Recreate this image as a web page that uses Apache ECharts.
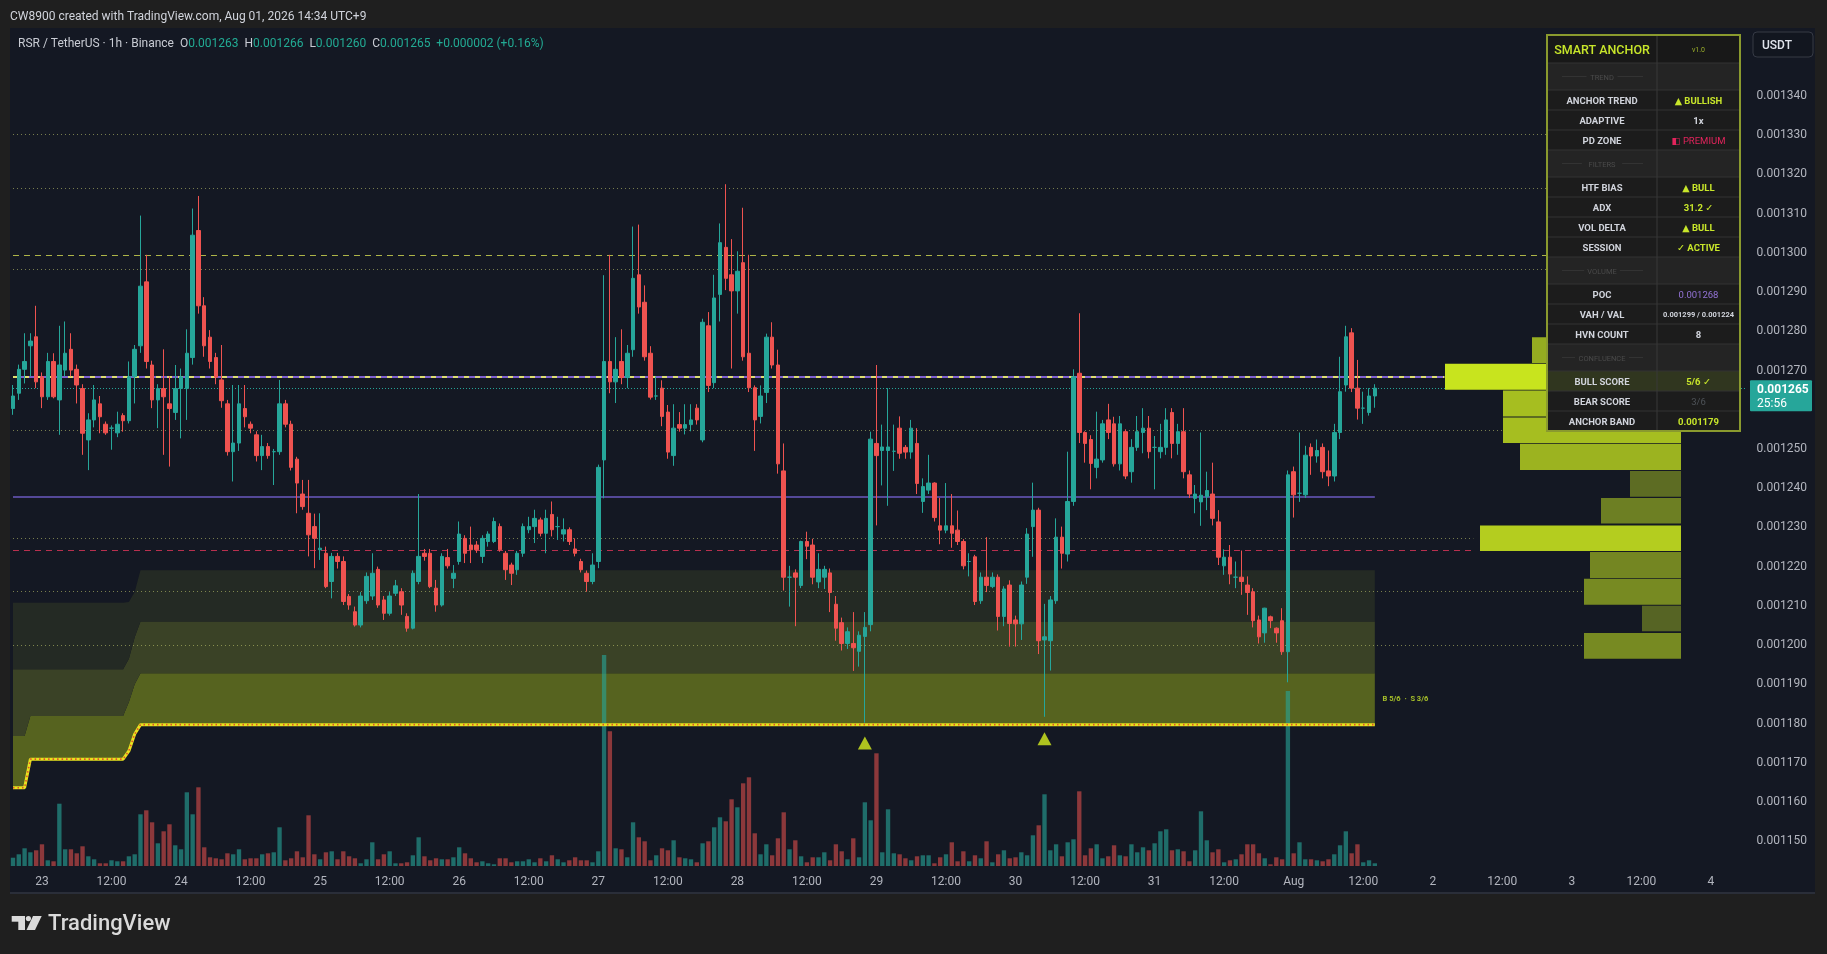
<!DOCTYPE html>
<html>
<head>
<meta charset="utf-8">
<script src="https://cdn.jsdelivr.net/npm/echarts@6/dist/echarts.min.js"></script>
<style>
html,body{margin:0;padding:0;background:#1f1f1f;width:1827px;height:954px;overflow:hidden;}
#pane{position:absolute;left:10px;top:28px;width:1805px;height:866px;background:#141823;border-bottom:2px solid #2a2e39;box-sizing:border-box;}
#chart{position:absolute;left:0;top:0;width:1827px;height:954px;}
</style>
</head>
<body>
<div id="pane"></div>
<div id="chart"></div>
<script>
// ---------- DATA (prices in micro-USDT, 1e-6 USDT) ----------
const PRICE_UNIT = 1e-6;
const symbolName = 'RSR / TetherUS · 1h · Binance';
const firstBar = { month: 'Jul', day: 22, hour: 19 }; // first visible hourly candle
const slotCount = 300; // visible hourly slots incl. future space

const candleOpen = [
1259.8,1263.7,1269.8,1275.8,1278.1,1267.9,1262.8,1271.8,1262.0,1269.6,
1274.9,1269.8,1264.9,1251.8,1256.9,1261.0,1255.8,1254.8,1253.6,1258.0,
1256.7,1267.9,1275.8,1292.1,1270.9,1262.0,1264.9,1261.0,1258.8,1264.9,
1264.9,1272.8,1305.2,1286.0,1278.0,1272.8,1267.1,1261.0,1248.8,1251.0,
1259.8,1255.8,1253.1,1247.8,1250.1,1248.8,1248.8,1261.0,1255.8,1246.9,
1238.0,1233.1,1229.7,1223.8,1222.9,1215.7,1222.1,1220.8,1211.9,1208.0,
1204.6,1210.8,1212.0,1218.8,1211.0,1207.6,1212.7,1213.1,1206.8,1203.8,
1215.7,1222.9,1222.9,1214.0,1209.7,1221.8,1216.5,1220.8,1226.7,1225.0,
1225.0,1222.1,1225.9,1225.9,1229.7,1222.9,1219.9,1218.7,1222.9,1228.9,
1229.7,1231.4,1228.0,1232.8,1229.7,1227.8,1228.9,1224.0,1220.8,1217.8,
1215.7,1220.8,1246.7,1271.8,1266.6,1271.8,1267.7,1274.8,1293.9,1286.9,
1273.9,1263.0,1265.0,1258.9,1247.8,1255.7,1254.8,1255.7,1259.9,1251.8,
1280.9,1266.4,1288.9,1300.9,1293.9,1289.8,1297.0,1273.9,1265.1,1257.8,
1263.9,1278.0,1270.9,1243.9,1216.8,1217.9,1214.7,1225.9,1225.0,1215.6,
1216.8,1217.9,1209.9,1205.2,1199.9,1199.9,1197.9,1201.7,1204.7,1250.9,
1249.1,1249.1,1248.9,1254.8,1249.9,1248.7,1250.9,1236.1,1239.0,1240.8,
1229.9,1228.8,1229.9,1228.8,1225.9,1220.8,1222.0,1210.8,1216.8,1214.4,
1216.8,1206.8,1214.8,1205.9,1204.9,1216.8,1229.7,1233.9,1200.8,1200.6,
1210.8,1227.0,1222.7,1236.1,1268.8,1253.7,1251.9,1244.8,1246.7,1256.9,
1255.9,1245.7,1253.9,1243.7,1249.9,1253.7,1254.8,1249.9,1248.8,1249.9,
1258.8,1250.9,1253.9,1242.9,1236.9,1236.0,1237.3,1238.0,1230.9,1219.7,
1221.9,1216.8,1216.8,1214.8,1213.1,1205.9,1202.6,1206.7,1203.8,1205.7,
1197.8,1243.7,1238.2,1237.8,1249.9,1247.7,1249.9,1243.9,1242.6,1253.7,
1265.8,1279.1,1265.0,1259.9,1258.8,1263.0
];
const candleClose = [
1263.0,1269.8,1271.8,1277.0,1266.6,1262.8,1271.8,1262.8,1270.9,1273.9,
1269.6,1265.8,1253.5,1256.9,1262.0,1257.7,1253.6,1254.8,1255.8,1256.7,
1267.9,1274.9,1291.0,1271.8,1262.0,1264.9,1262.8,1259.8,1264.9,1267.9,
1273.9,1304.0,1286.0,1275.8,1271.8,1267.8,1261.8,1248.8,1251.0,1261.0,
1257.7,1254.8,1247.8,1250.1,1247.8,1248.8,1261.0,1255.8,1244.8,1240.8,
1234.8,1227.6,1226.7,1224.2,1214.4,1222.1,1220.8,1210.6,1209.7,1204.6,
1212.0,1217.0,1217.8,1209.7,1207.6,1212.0,1214.6,1209.7,1203.8,1217.8,
1222.1,1222.1,1214.4,1209.7,1222.1,1219.7,1217.8,1227.8,1222.9,1223.8,
1223.8,1226.7,1227.8,1231.0,1223.8,1218.7,1217.8,1222.9,1229.7,1229.7,
1231.8,1228.0,1231.8,1228.9,1229.7,1228.9,1225.9,1222.9,1218.7,1215.7,
1219.9,1244.8,1271.8,1266.6,1269.8,1267.7,1273.9,1293.0,1285.7,1273.0,
1262.7,1263.0,1257.8,1248.7,1254.8,1254.8,1255.7,1256.9,1256.9,1281.8,
1265.7,1288.0,1302.1,1293.0,1289.8,1294.8,1273.0,1265.1,1256.9,1263.0,
1278.0,1270.9,1245.7,1216.8,1216.8,1216.8,1225.9,1224.7,1216.8,1218.8,
1218.8,1212.9,1203.8,1199.9,1202.9,1198.8,1202.0,1204.0,1252.0,1247.8,
1250.0,1250.0,1248.9,1248.4,1248.7,1254.8,1240.7,1239.9,1240.8,1232.0,
1228.8,1229.9,1228.0,1225.9,1219.7,1220.8,1210.6,1216.8,1214.7,1216.8,
1206.8,1213.8,1205.0,1204.9,1214.8,1227.8,1233.9,1200.6,1201.6,1211.0,
1227.0,1222.9,1236.1,1267.9,1253.7,1250.9,1245.8,1246.9,1255.9,1253.7,
1245.7,1255.9,1242.6,1249.9,1253.9,1254.8,1248.8,1249.9,1249.9,1256.9,
1250.9,1253.9,1243.7,1238.0,1238.0,1237.7,1238.9,1231.8,1221.9,1221.9,
1217.6,1216.8,1215.7,1212.9,1205.7,1201.6,1208.9,1205.7,1202.6,1197.8,
1242.9,1237.8,1238.2,1247.9,1247.7,1249.1,1243.7,1242.6,1253.7,1264.1,
1278.1,1265.0,1259.9,1259.9,1263.0,1265.0
];
const candleLow = [
1258.2,1262.0,1266.2,1268.0,1265.0,1259.9,1262.0,1262.4,1253.1,1268.0,
1268.0,1261.1,1248.0,1244.1,1255.0,1253.5,1253.1,1249.3,1252.5,1253.9,
1256.0,1261.1,1274.0,1270.0,1259.9,1254.8,1248.0,1245.0,1256.9,1252.2,
1256.9,1271.0,1284.0,1273.0,1270.0,1266.0,1260.0,1247.8,1241.2,1249.0,
1255.0,1253.5,1246.3,1244.1,1247.0,1240.3,1248.0,1255.0,1244.0,1233.1,
1234.0,1222.1,1219.1,1221.2,1214.0,1211.4,1219.0,1209.7,1208.5,1204.2,
1204.0,1210.0,1211.0,1209.0,1205.9,1207.0,1212.0,1207.2,1202.9,1203.5,
1215.0,1221.0,1214.0,1208.0,1209.3,1219.0,1214.0,1220.0,1220.4,1220.4,
1223.0,1220.4,1224.6,1225.5,1223.3,1216.1,1214.8,1217.4,1222.0,1228.0,
1225.5,1227.2,1222.9,1227.2,1226.3,1225.9,1225.0,1222.1,1218.0,1213.1,
1215.0,1219.1,1236.9,1263.7,1261.2,1266.0,1265.0,1273.0,1284.0,1272.0,
1262.1,1262.0,1255.3,1247.0,1245.2,1253.9,1253.2,1254.0,1255.7,1251.2,
1264.0,1265.0,1282.0,1290.0,1270.0,1284.0,1272.0,1264.0,1249.0,1256.0,
1261.2,1270.0,1243.2,1213.4,1209.3,1204.3,1214.0,1221.4,1215.0,1214.0,
1213.8,1207.9,1200.6,1198.1,1198.5,1192.9,1194.0,1179.7,1203.0,1230.0,
1240.2,1235.0,1243.9,1247.0,1247.0,1247.0,1238.0,1233.2,1238.0,1231.0,
1225.2,1228.0,1224.3,1225.0,1218.8,1217.0,1209.7,1210.0,1213.0,1214.0,
1203.2,1204.3,1199.1,1199.1,1200.8,1215.1,1222.0,1197.2,1181.2,1193.0,
1210.0,1219.0,1220.8,1235.0,1251.0,1246.0,1239.2,1242.0,1246.0,1252.0,
1245.0,1244.0,1241.8,1240.9,1249.0,1248.4,1247.1,1239.2,1247.1,1248.0,
1247.1,1248.0,1242.0,1237.0,1233.1,1229.9,1233.9,1230.0,1219.9,1217.4,
1215.0,1214.0,1212.3,1207.2,1204.0,1199.9,1200.1,1203.8,1200.1,1197.0,
1190.0,1232.0,1236.0,1237.0,1242.9,1246.0,1242.0,1240.0,1241.2,1252.0,
1264.1,1264.0,1257.0,1255.9,1258.0,1260.0
];
const candleHigh = [
1265.8,1271.0,1279.0,1279.0,1286.0,1269.0,1274.0,1273.9,1280.9,1282.0,
1279.0,1271.0,1266.0,1258.6,1265.8,1263.0,1256.5,1255.5,1259.0,1258.6,
1271.8,1276.0,1309.0,1299.0,1272.0,1266.0,1274.9,1268.0,1270.9,1270.0,
1280.0,1310.8,1314.0,1288.2,1279.8,1274.0,1276.0,1262.0,1265.8,1265.8,
1265.8,1256.5,1254.0,1253.1,1251.0,1249.5,1267.1,1262.0,1256.7,1247.5,
1241.6,1241.6,1233.0,1233.1,1224.6,1223.0,1223.0,1222.1,1212.5,1209.3,
1213.0,1218.0,1222.9,1219.5,1212.0,1213.0,1216.1,1214.0,1207.6,1218.5,
1238.0,1224.0,1224.0,1216.1,1222.9,1224.0,1219.9,1231.0,1227.5,1229.7,
1226.0,1227.5,1228.5,1232.0,1230.5,1223.5,1220.5,1223.5,1230.5,1232.2,
1234.0,1232.0,1234.0,1236.1,1232.2,1231.8,1229.5,1226.7,1221.5,1218.5,
1222.9,1245.5,1293.8,1299.0,1278.0,1280.0,1276.0,1306.2,1306.7,1291.2,
1275.7,1268.0,1267.0,1260.7,1260.9,1258.9,1260.9,1260.9,1260.9,1282.7,
1284.4,1293.9,1307.0,1317.0,1303.0,1299.9,1311.0,1299.0,1265.7,1265.7,
1278.9,1281.8,1274.8,1250.9,1219.7,1218.8,1226.1,1228.4,1226.6,1222.9,
1219.7,1219.0,1212.0,1206.5,1204.0,1207.9,1203.0,1207.9,1253.9,1270.9,
1255.7,1265.0,1255.7,1257.8,1250.5,1256.9,1254.8,1242.0,1248.0,1241.0,
1237.0,1240.8,1238.0,1233.8,1226.5,1222.9,1222.5,1218.0,1227.0,1218.0,
1217.5,1214.5,1216.0,1207.0,1215.7,1229.3,1240.9,1234.5,1210.0,1212.0,
1231.8,1229.7,1248.8,1269.8,1284.1,1254.0,1253.0,1259.0,1256.9,1261.0,
1257.7,1257.9,1254.5,1252.0,1257.9,1259.9,1257.9,1252.8,1255.9,1259.9,
1259.9,1255.9,1259.9,1244.0,1240.3,1253.7,1243.7,1246.0,1233.9,1223.9,
1225.0,1220.8,1223.6,1217.0,1214.0,1207.0,1209.0,1207.0,1204.0,1208.9,
1244.0,1245.0,1253.7,1250.3,1250.9,1251.9,1250.9,1249.1,1255.9,1273.0,
1280.9,1280.3,1272.2,1264.1,1265.0,1266.0
];
// relative volume per candle
const candleVolume = [
8.3,11.7,17.7,13.7,15.7,21.7,5.7,4.7,62.3,16.7,
16.7,12.7,19.7,9.7,6.7,2.7,2.7,5.7,4.7,4.7,
9.7,11.7,51.7,55.7,43.7,22.7,34.7,41.7,20.7,16.7,
73.7,51.7,78.7,18.7,8.7,7.7,6.7,12.7,11.7,16.7,
6.7,7.7,7.7,11.7,12.7,13.7,38.7,5.7,7.7,14.7,
8.7,50.7,11.7,6.7,13.7,14.7,6.7,14.7,9.7,7.7,
2.7,6.7,23.7,6.7,11.7,14.7,2.7,2.7,3.7,10.7,
28.7,9.7,5.7,7.7,6.7,6.7,8.7,18.7,12.7,7.7,
3.7,4.7,2.7,1.7,7.7,7.7,3.7,4.7,4.7,6.7,
3.7,7.7,4.7,10.7,6.7,3.7,5.7,8.7,5.7,5.7,
3.7,14.7,211,134.7,17.7,16.7,8.7,43.7,28.7,24.7,
5.7,10.7,17.7,15.7,25.7,8.7,7.7,6.7,3.7,22.7,
24.7,38.7,48.7,44.7,66.7,58.7,82.7,88.7,32.7,11.7,
21.7,10.7,27.7,53.7,16.7,25.7,9.7,3.7,8.7,8.7,
13.7,5.7,21.7,14.7,6.7,27.7,8.7,63.7,45.7,112.7,
13.7,56.7,12.7,11.7,7.7,5.7,9.7,10.7,10.7,2.7,
8.7,11.7,23.7,4.7,14.7,4.7,10.7,7.7,24.7,3.7,
11.7,15.7,7.7,8.7,13.7,10.7,30.7,40.7,71.7,15.7,
21.7,9.7,23.7,26.7,74.7,10.7,17.7,21.7,7.7,9.7,
20.7,10.7,9.7,21.7,13.7,18.7,15.7,22.7,34.7,36.7,
15.7,16.7,14.7,4.7,15.7,54.7,25.7,13.7,16.7,3.7,
5.7,6.7,11.7,21.7,21.7,12.7,7.7,1.7,8.7,6.7,
175,12.7,23.7,6.7,6.7,5.7,4.7,6.7,11.7,20.7,
34.7,12.7,21.7,3.7,5.7,2.7
];

// Smart anchor step levels: a new level starts at each listed candle index
const bandStepStart = [0, 3, 20, 21, 22];
const anchorLevel   = [1163.1, 1170.4, 1172.5, 1176.8, 1179.2];
const band1Top      = [1176.3, 1181.4, 1185.0, 1189.5, 1192.3];
const band2Top      = [1193.3, 1193.3, 1196.0, 1201.5, 1205.5];
const band3Top      = [1210.3, 1210.3, 1210.5, 1213.0, 1218.6];

// horizontal levels
const dottedLevel    = [1329.8, 1316.0, 1295.3, 1254.3, 1226.8, 1213.2, 1199.5];
const dottedLevelEnd = [280, 280, 280, 257, 252, 271, 271];
const vahLevel = 1298.9, valLevel = 1223.6, pocLevel = 1268.0, midLevel = 1237.3;

// buy signals (triangles)
const signalIndex = [147, 178];
const signalPrice = [1174.5, 1175.6];

// volume profile bins (bottom to top)
const vpLow    = [1196.0, 1203.0, 1209.8, 1216.6, 1223.5, 1230.5, 1237.3, 1244.1, 1251.0, 1257.8, 1264.6, 1271.4];
const vpHigh   = [1202.6, 1209.5, 1216.4, 1223.2, 1230.0, 1237.0, 1243.9, 1250.8, 1257.5, 1264.4, 1271.2, 1278.0];
const vpVolume = [97, 39, 97, 91, 201, 80, 51, 161, 178, 178, 236, 149];

// dashboard values
const bullScore = '5/6', bearScore = '3/6', adxValue = '31.2', hvnCount = '8', countdown = '25:56';

// ---------- BUILD ----------
const FONT = "Roboto, 'DejaVu Sans', sans-serif";
const UP = '#26a69a', DOWN = '#ef5350', LIME = '#c8e62a';
const fmtP = v => (v * PRICE_UNIT).toFixed(6);

const categories = [], slotInfo = [];
for (let i = 0; i < slotCount; i++) {
  const h = firstBar.hour + i;
  let day = firstBar.day + Math.floor(h / 24), mon = firstBar.month;
  if (day > 31) { day -= 31; mon = 'Aug'; }
  slotInfo.push({ hour: h % 24, day, mon });
  categories.push(mon + ' ' + day + ' ' + String(h % 24).padStart(2, '0') + ':00');
}
const nBars = candleOpen.length;
const stepExpand = (levels) => {
  const out = [];
  for (let i = 0; i < nBars; i++) {
    let k = 0;
    for (let s = 0; s < bandStepStart.length; s++) if (i >= bandStepStart[s]) k = s;
    out.push(levels[k]);
  }
  return out;
};
const anchorArr = stepExpand(anchorLevel);
const b1Arr = stepExpand(band1Top), b2Arr = stepExpand(band2Top), b3Arr = stepExpand(band3Top);
const d1 = b1Arr.map((v, i) => +(v - anchorArr[i]).toFixed(2));
const d2 = b2Arr.map((v, i) => +(v - b1Arr[i]).toFixed(2));
const d3 = b3Arr.map((v, i) => +(v - b2Arr[i]).toFixed(2));

const ohlc = candleOpen.map((o, i) => [o, candleClose[i], candleLow[i], candleHigh[i]]);
const volData = candleVolume.map((v, i) => ({
  value: v,
  itemStyle: { color: candleClose[i] >= candleOpen[i] ? 'rgba(38,166,154,0.6)' : 'rgba(239,83,80,0.55)' }
}));

const lastClose = candleClose[nBars - 1];
const lvl = (v, end, style) => [{ coord: [0, v], lineStyle: style }, { coord: [end, v] }];
const levelLines = [];
dottedLevel.forEach((v, i) => levelLines.push(lvl(v, dottedLevelEnd[i], { color: 'rgba(190,198,110,0.6)', width: 1, type: [1, 3] })));
levelLines.push(lvl(vahLevel, 280, { color: '#aeb548', width: 1, type: [6, 5] }));
levelLines.push(lvl(valLevel, 252, { color: '#b8304f', width: 1, type: [6, 5] }));
levelLines.push(lvl(midLevel, nBars - 1, { color: '#6a58c0', width: 1.5, type: 'solid' }));
levelLines.push(lvl(pocLevel, 247, { color: '#7e5fcf', width: 2, type: 'solid' }));
levelLines.push(lvl(pocLevel, 247, { color: '#dede72', width: 2, type: [5, 6] }));
levelLines.push(lvl(lastClose, slotCount - 1, { color: UP, width: 1, type: [1, 2] }));

const vpMax = Math.max(...vpVolume);
const vpColor = v => {
  const t = v / vpMax;
  const r = Math.round(63 + 137 * t), g = Math.round(75 + 153 * t), b = Math.round(37 - 7 * t);
  return `rgb(${r},${g},${b})`;
};

// price labels; the one hidden behind the live-price tag is left out
const yLabel = v => {
  const r = Math.round(v);
  if (r < 1150 || r > 1340) return '';
  if (r > lastClose - 6.5 && r < lastClose + 2.5) return '';
  return fmtP(r);
};

const option = {
  animation: false,
  backgroundColor: 'transparent',
  grid: [
    { left: 10.1, width: 1738.5, top: 15.56, height: 862.84, outerBoundsMode: 'none', containLabel: false },
    { left: 10.1, width: 1738.5, top: 655, height: 211, outerBoundsMode: 'none', containLabel: false },
    { left: 10, width: 1671, top: 15.56, height: 862.84, outerBoundsMode: 'none', containLabel: false }
  ],
  xAxis: [
    { type: 'category', gridIndex: 0, data: categories, show: false },
    { type: 'category', gridIndex: 1, data: categories,
      axisLine: { show: false }, axisTick: { show: false }, splitLine: { show: false },
      axisLabel: {
        color: '#b2b5be', fontSize: 12, fontFamily: FONT, margin: 10, hideOverlap: false,
        interval: (i) => slotInfo[i].hour === 0 || slotInfo[i].hour === 12,
        formatter: (v, i) => {
          const s = slotInfo[i];
          if (s.hour === 12) return '12:00';
          return (s.mon === 'Aug' && s.day === 1) ? 'Aug' : String(s.day);
        }
      } },
    { type: 'value', gridIndex: 2, inverse: true, min: 0, max: 1671, show: false }
  ],
  yAxis: [
    { type: 'value', gridIndex: 0, position: 'right', min: 1140, max: 1360, interval: 10,
      axisLine: { show: false }, axisTick: { show: false }, splitLine: { show: false },
      axisLabel: { color: '#b2b5be', fontSize: 12, fontFamily: FONT, margin: 8,
        verticalAlign: 'top', lineHeight: 4, formatter: yLabel } },
    { type: 'value', gridIndex: 1, min: 0, max: 211, show: false },
    { type: 'value', gridIndex: 2, min: 1140, max: 1360, show: false }
  ],
  series: [
    { type: 'line', name: 'bandBase', data: anchorArr, stack: 'band', symbol: 'none', silent: true, z: 1,
      lineStyle: { width: 0, opacity: 0 } },
    { type: 'line', name: 'band1', data: d1, stack: 'band', symbol: 'none', silent: true, z: 1,
      lineStyle: { width: 0, opacity: 0 }, areaStyle: { color: '#56631f', opacity: 1 } },
    { type: 'line', name: 'band2', data: d2, stack: 'band', symbol: 'none', silent: true, z: 1,
      lineStyle: { width: 0, opacity: 0 }, areaStyle: { color: '#3a4226', opacity: 1 } },
    { type: 'line', name: 'band3', data: d3, stack: 'band', symbol: 'none', silent: true, z: 1,
      lineStyle: { width: 0, opacity: 0 }, areaStyle: { color: '#242a24', opacity: 1 } },
    { type: 'bar', name: 'volume', xAxisIndex: 1, yAxisIndex: 1, data: volData, barWidth: '75%', silent: true, z: 2 },
    { type: 'line', name: 'levels', data: candleClose, symbol: 'none', silent: true, z: 3,
      lineStyle: { opacity: 0, width: 0 },
      markLine: { silent: true, symbol: ['none', 'none'], label: { show: false }, animation: false, data: levelLines } },
    { type: 'line', name: 'anchor', data: anchorArr, symbol: 'none', silent: true, z: 4,
      lineStyle: { color: '#e8e21e', width: 3 } },
    { type: 'line', name: 'anchorDots', data: anchorArr, symbol: 'none', silent: true, z: 5,
      lineStyle: { color: '#e0502c', width: 1.6, type: [1.5, 3] } },
    { type: 'candlestick', name: 'RSRUSDT', data: ohlc, barWidth: 4, z: 6,
      itemStyle: { color: UP, color0: DOWN, borderColor: UP, borderColor0: DOWN, borderColorDoji: UP, borderWidth: 1 } },
    { type: 'scatter', name: 'signals', data: signalIndex.map((x, i) => [x, signalPrice[i]]), symbol: 'triangle',
      symbolSize: [14, 13], itemStyle: { color: '#d6ef1e' }, silent: true, z: 7 },
    { type: 'scatter', name: 'scoreTag',
      data: [[nBars, (anchorLevel[anchorLevel.length - 1] + band1Top[band1Top.length - 1]) / 2]],
      symbolSize: 0, silent: true, z: 7,
      label: { show: true, position: 'right', distance: 2, formatter: 'B ' + bullScore + '  ·  S ' + bearScore,
        color: LIME, fontSize: 7.5, fontWeight: 'bold', fontFamily: FONT } },
    { type: 'custom', name: 'volumeProfile', xAxisIndex: 2, yAxisIndex: 2, z: 8, silent: true,
      data: vpLow.map((lo, i) => [lo, vpHigh[i], vpVolume[i]]),
      encode: { x: 2, y: [0, 1] },
      renderItem: (params, api) => {
        const lo = api.value(0), hi = api.value(1), v = api.value(2);
        const pTop = api.coord([v, hi]);
        const pBot = api.coord([0, lo]);
        return { type: 'rect', shape: { x: pTop[0], y: pTop[1], width: pBot[0] - pTop[0], height: pBot[1] - pTop[1] },
          style: { fill: vpColor(v) } };
      } }
  ]
};

const chart = echarts.init(document.getElementById('chart'), null, { renderer: 'canvas', width: 1827, height: 954 });
chart.setOption(option);

// ---------- GRAPHIC OVERLAYS ----------
const G = [];
const TEXT_NUDGE = 1.5; // canvas 'middle' sits a bit high for caps/digits
const txt = (x, y, text, o) => G.push({ type: 'text', x, y: y + TEXT_NUDGE, z: 120, silent: true,
  style: Object.assign({ text, fill: '#d1d4dc', fontSize: 12, fontFamily: FONT, align: 'left', textAlign: 'left',
    verticalAlign: 'middle', textVerticalAlign: 'middle' }, o || {}) });

// top caption
txt(10, 15, 'CW8900 created with TradingView.com, Aug 01, 2026 14:34 UTC+9', { fontSize: 12 });
// legend line
const last = nBars - 1;
const chg = candleClose[last] - candleClose[last - 1];
const chgPct = chg / candleClose[last - 1] * 100;
G.push({ type: 'text', x: 18, y: 42 + TEXT_NUDGE, z: 120, silent: true, style: {
  text: symbolName + '  {l|O}{v|' + fmtP(candleOpen[last]) + '}  {l|H}{v|' + fmtP(candleHigh[last]) + '}  {l|L}{v|' +
    fmtP(candleLow[last]) + '}  {l|C}{v|' + fmtP(candleClose[last]) + '}  {v|' + (chg >= 0 ? '+' : '') + fmtP(chg) +
    ' (' + (chg >= 0 ? '+' : '') + chgPct.toFixed(2) + '%)}',
  fill: '#c9ccd4', fontSize: 12, fontFamily: FONT, verticalAlign: 'middle', textVerticalAlign: 'middle',
  rich: { l: { fill: '#c9ccd4', color: '#c9ccd4', fontSize: 12, fontFamily: FONT },
          v: { fill: '#22ab94', color: '#22ab94', fontSize: 12, fontFamily: FONT } } } });

// USDT box
G.push({ type: 'rect', z: 118, silent: true, shape: { x: 1753, y: 32, width: 60, height: 25, r: 4 },
  style: { fill: '#12161f', stroke: '#363a45', lineWidth: 1 } });
txt(1762, 44.5, 'USDT', { fontSize: 12, fontWeight: 500, fill: '#e0e3eb' });

// current price label
const yc = chart.convertToPixel({ yAxisIndex: 0 }, lastClose);
G.push({ type: 'rect', z: 118, silent: true, shape: { x: 1750, y: yc - 8, width: 62, height: 31, r: 1 }, style: { fill: UP } });
txt(1757, yc, fmtP(lastClose), { fontSize: 12, fontWeight: 'bold', fill: '#ffffff' });
txt(1757, yc + 14, countdown, { fontSize: 12, fill: '#ffffff' });

// dashboard table
const tableRows = [
  { kind: 'header', label: 'SMART ANCHOR', value: 'v1.0' },
  { kind: 'section', label: 'TREND' },
  { kind: 'row', label: 'ANCHOR TREND', value: '▲ BULLISH', color: LIME },
  { kind: 'row', label: 'ADAPTIVE', value: '1x', color: '#d1d4dc' },
  { kind: 'row', label: 'PD ZONE', value: '◧ PREMIUM', color: '#e3245c', weight: 'normal' },
  { kind: 'section', label: 'FILTERS' },
  { kind: 'row', label: 'HTF BIAS', value: '▲ BULL', color: LIME },
  { kind: 'row', label: 'ADX', value: adxValue + ' ✓', color: LIME },
  { kind: 'row', label: 'VOL DELTA', value: '▲ BULL', color: LIME },
  { kind: 'row', label: 'SESSION', value: '✓ ACTIVE', color: LIME },
  { kind: 'section', label: 'VOLUME' },
  { kind: 'row', label: 'POC', value: fmtP(pocLevel), color: '#9373d6', weight: 'normal' },
  { kind: 'row', label: 'VAH / VAL', value: fmtP(vahLevel) + ' / ' + fmtP(valLevel), color: '#d1d4dc', size: 7.5 },
  { kind: 'row', label: 'HVN COUNT', value: hvnCount, color: '#d1d4dc' },
  { kind: 'section', label: 'CONFLUENCE' },
  { kind: 'row', label: 'BULL SCORE', value: bullScore + ' ✓', color: LIME, bg: '#30361f' },
  { kind: 'row', label: 'BEAR SCORE', value: bearScore, color: '#4e5358', weight: 'normal' },
  { kind: 'row', label: 'ANCHOR BAND', value: fmtP(anchorLevel[anchorLevel.length - 1]), color: LIME }
];
const TX = 1547, TW = 193, TDIV = 1657, TY = 35;
const rowH = { header: 28, section: 27, row: 20 };
const LC = (TX + TDIV) / 2, VC = (TDIV + TX + TW) / 2;
let ty = TY;
tableRows.forEach(r => {
  const h = rowH[r.kind];
  const bg = r.bg || (r.kind === 'header' ? '#181818' : r.kind === 'section' ? '#242424' : '#1c1c1c');
  G.push({ type: 'rect', z: 110, silent: true, shape: { x: TX, y: ty, width: TW, height: h }, style: { fill: bg } });
  G.push({ type: 'line', z: 111, silent: true, shape: { x1: TX, y1: ty + h, x2: TX + TW, y2: ty + h }, style: { stroke: '#323232', lineWidth: 1 } });
  const cy = ty + h / 2;
  if (r.kind === 'header') {
    txt(LC, cy, r.label, { align: 'center', textAlign: 'center', fill: LIME, fontSize: 12.5, fontWeight: 500 });
    txt(VC, cy, r.value, { align: 'center', textAlign: 'center', fill: '#9aae2a', fontSize: 7 });
  } else if (r.kind === 'section') {
    const tw = r.label.length * 4.6;
    txt(LC, cy, r.label, { align: 'center', textAlign: 'center', fill: '#4a4a4a', fontSize: 7.5 });
    G.push({ type: 'line', z: 113, silent: true, shape: { x1: 1562, y1: cy, x2: LC - tw / 2 - 4, y2: cy }, style: { stroke: '#333333', lineWidth: 1 } });
    G.push({ type: 'line', z: 113, silent: true, shape: { x1: LC + tw / 2 + 4, y1: cy, x2: 1643, y2: cy }, style: { stroke: '#333333', lineWidth: 1 } });
  } else {
    txt(LC, cy, r.label, { align: 'center', textAlign: 'center', fill: '#d1d4dc', fontSize: 9.5, fontWeight: 'bold' });
    txt(VC, cy, r.value, { align: 'center', textAlign: 'center', fill: r.color, fontSize: r.size || 9.5, fontWeight: r.weight || 'bold' });
  }
  ty += h;
});
G.push({ type: 'line', z: 111, silent: true, shape: { x1: TDIV, y1: TY, x2: TDIV, y2: ty }, style: { stroke: '#383838', lineWidth: 1 } });
G.push({ type: 'rect', z: 114, silent: true, shape: { x: TX, y: TY, width: TW, height: ty - TY }, style: { fill: 'none', stroke: '#8a9a2e', lineWidth: 2 } });

// TradingView logo
const LOGO = '#dadada';
G.push({ type: 'rect', z: 120, silent: true, shape: { x: 11.7, y: 916, width: 13.3, height: 5.7 }, style: { fill: LOGO } });
G.push({ type: 'rect', z: 120, silent: true, shape: { x: 18.3, y: 916, width: 6.7, height: 14 }, style: { fill: LOGO } });
G.push({ type: 'circle', z: 120, silent: true, shape: { cx: 28.4, cy: 918.6, r: 2.6 }, style: { fill: LOGO } });
G.push({ type: 'polygon', z: 120, silent: true, shape: { points: [[33, 916], [41.7, 916], [35, 930], [26.5, 930]] }, style: { fill: LOGO } });
txt(48, 922.5, 'TradingView', { fontSize: 22, fontWeight: 500, fill: LOGO });

chart.setOption({ graphic: { elements: G } });
</script>
</body>
</html>
